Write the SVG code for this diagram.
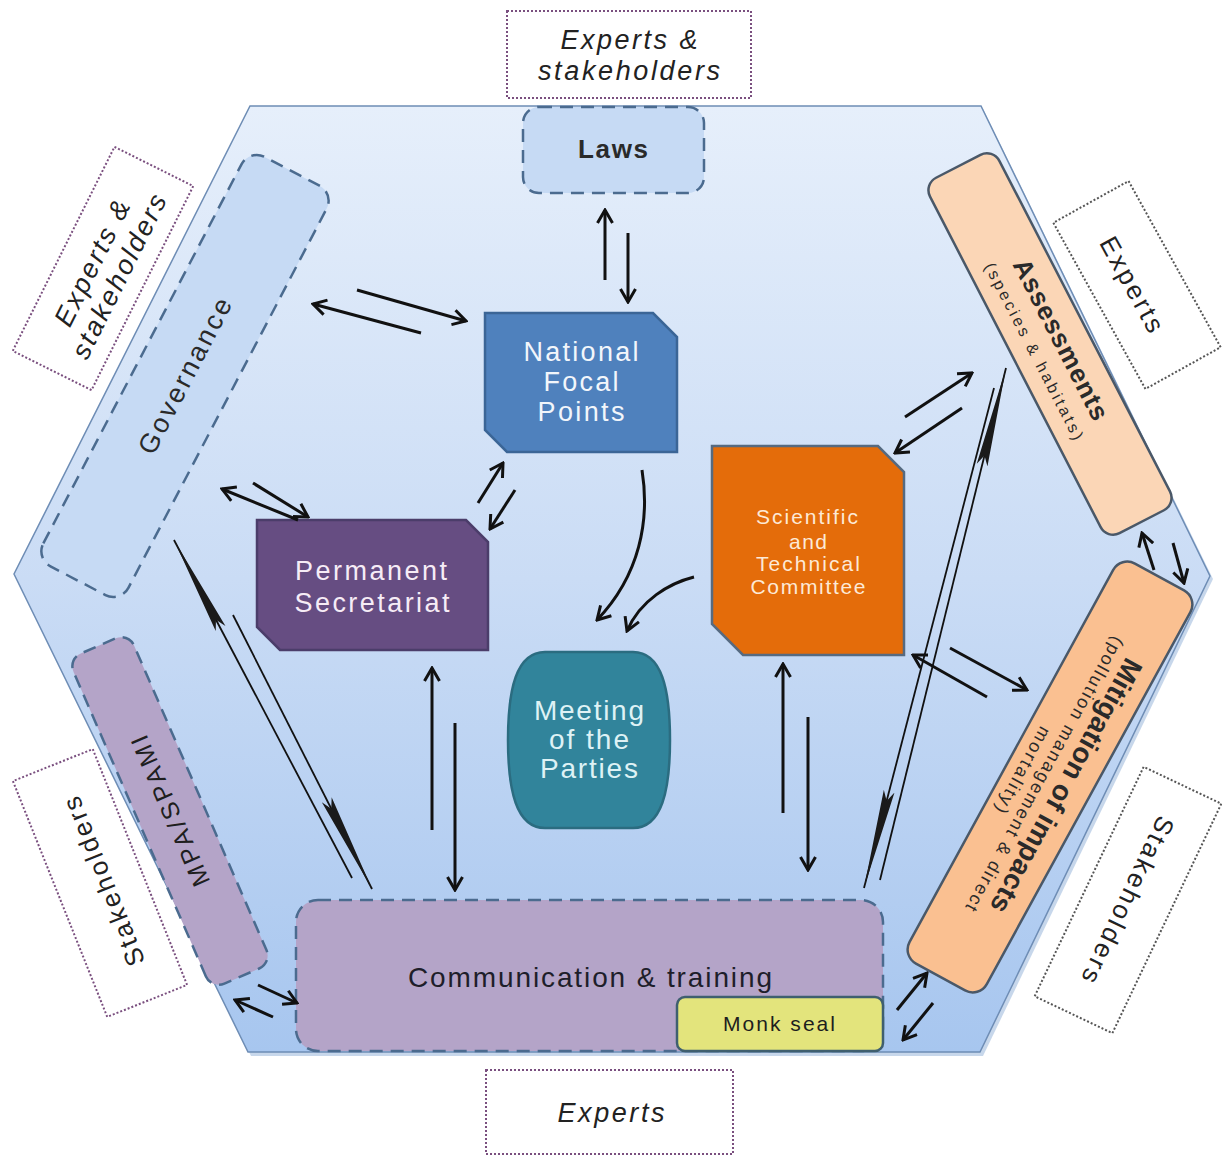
<svg xmlns="http://www.w3.org/2000/svg" width="1222" height="1156" viewBox="0 0 1222 1156">
  <defs>
    <linearGradient id="hexg" x1="0" y1="0" x2="0" y2="1">
      <stop offset="0" stop-color="#e6effb"/>
      <stop offset="0.5" stop-color="#cadcf5"/>
      <stop offset="1" stop-color="#a7c6ef"/>
    </linearGradient>
    <marker id="ah" viewBox="0 0 16 18" refX="14" refY="9" markerWidth="16" markerHeight="18" markerUnits="userSpaceOnUse" orient="auto">
      <path d="M1,1.5 L14,9 L1,16.5" fill="none" stroke="#111" stroke-width="3"/>
    </marker>
    <marker id="lh" viewBox="0 0 100 12" refX="100" refY="6" markerWidth="100" markerHeight="12" markerUnits="userSpaceOnUse" orient="auto">
      <path d="M0,0.5 L100,6 L0,11.5 L10,6 Z" fill="#1a1a1a"/>
    </marker>
    <style>
      text { font-family: "Liberation Sans", Arial, "DejaVu Sans", sans-serif; }
      .dash { stroke: #4b6b8f; stroke-width: 2.5; stroke-dasharray: 13 8; }
      .dotp { fill: #fff; stroke: #7a4f7f; stroke-width: 2; stroke-dasharray: 2 2; }
      .dotg { fill: #fff; stroke: #555; stroke-width: 2; stroke-dasharray: 2 2; }
      .blue { fill: #c6daf4; }
      .lav { fill: #b4a4c8; }
      .dark { fill: #222; }
      .arr { fill: none; stroke: #111; stroke-width: 3; marker-end: url(#ah); }
      .long { fill: none; stroke: #111; stroke-width: 1.8; marker-end: url(#lh); }
      .it { font-style: italic; }
    </style>
  </defs>

  <g id="hexagon">
    <polygon points="252,109 983,109 1213,579 983,1056 251,1056 17,577" fill="#8fb0d8" opacity="0.5"/>
    <polygon points="250,106 981,106 1210,576 980,1052 248,1052 14,574" fill="url(#hexg)" stroke="#6e8db5" stroke-width="1.5"/>
  </g>

  <g id="node-experts-stakeholders-top">
    <rect class="dotp" x="507" y="11" width="244" height="87"/>
    <text class="dark it" x="629" y="49" font-size="27" text-anchor="middle" textLength="137" lengthAdjust="spacing">Experts &amp;</text>
    <text class="dark it" x="629" y="80" font-size="27" text-anchor="middle" textLength="182" lengthAdjust="spacing">stakeholders</text>
  </g>

  <g id="node-experts-stakeholders-left" transform="translate(103,268.5) rotate(-63.5)">
    <rect class="dotp" x="-114" y="-44" width="228" height="88"/>
    <text class="dark it" x="0" y="-3" font-size="27" text-anchor="middle" textLength="137" lengthAdjust="spacing">Experts &amp;</text>
    <text class="dark it" x="0" y="27" font-size="27" text-anchor="middle" textLength="180" lengthAdjust="spacing">stakeholders</text>
  </g>

  <g id="node-experts-right" transform="translate(1137,285) rotate(61)">
    <rect class="dotg" x="-95" y="-43" width="190" height="86"/>
    <text class="dark" x="-3" y="13" font-size="26" text-anchor="middle" textLength="105" lengthAdjust="spacing">Experts</text>
  </g>

  <g id="node-stakeholders-left" transform="translate(100,883) rotate(-111.8)">
    <rect class="dotp" x="-127" y="-43" width="254" height="86"/>
    <text class="dark" x="0" y="13" font-size="26" text-anchor="middle" textLength="180" lengthAdjust="spacing">Stakeholders</text>
  </g>

  <g id="node-stakeholders-right" transform="translate(1128,900) rotate(115.4)">
    <rect class="dotg" x="-127" y="-43" width="254" height="86"/>
    <text class="dark" x="0" y="9" font-size="26" text-anchor="middle" textLength="182" lengthAdjust="spacing">Stakeholders</text>
  </g>

  <g id="node-experts-bottom">
    <rect class="dotp" x="486" y="1070" width="247" height="84"/>
    <text class="dark it" x="611" y="1122" font-size="27" text-anchor="middle" textLength="107" lengthAdjust="spacing">Experts</text>
  </g>

  <g id="node-governance" transform="translate(185,376) rotate(-62.4)">
    <rect class="blue dash" x="-231" y="-48" width="462" height="96" rx="17"/>
    <text x="0" y="9" font-size="27" text-anchor="middle" fill="#2a2a2a" textLength="172" lengthAdjust="spacing">Governance</text>
  </g>

  <g id="node-laws">
    <rect class="blue dash" x="523" y="107" width="181" height="86" rx="16"/>
    <text x="613" y="158" font-size="26" font-weight="bold" text-anchor="middle" fill="#2a2a2a" textLength="70" lengthAdjust="spacing">Laws</text>
  </g>

  <g id="node-mpa-spami" transform="translate(170,811) rotate(-113.5)">
    <rect class="lav dash" x="-180" y="-33" width="360" height="66" rx="14"/>
    <text x="0" y="9" font-size="25" text-anchor="middle" fill="#1e1e1e" textLength="162" lengthAdjust="spacing">MPA/SPAMI</text>
  </g>

  <g id="node-communication">
    <rect class="lav dash" x="296" y="900" width="587" height="151" rx="22"/>
    <text x="590" y="987" font-size="28" text-anchor="middle" fill="#1e1e2a" textLength="364" lengthAdjust="spacing">Communication &amp; training</text>
  </g>

  <g id="node-monk-seal">
    <rect x="677" y="997" width="206" height="54" rx="8" fill="#e3e47c" stroke="#3f5f6f" stroke-width="2.5"/>
    <text x="779" y="1031" font-size="21" text-anchor="middle" fill="#1e1e1e" textLength="112" lengthAdjust="spacing">Monk seal</text>
  </g>

  <g id="node-assessments" transform="translate(1050,344) rotate(62.7)">
    <rect x="-200" y="-39" width="400" height="78" rx="14" fill="#fbd6b6" stroke="#4a5868" stroke-width="2.5"/>
    <text x="1" y="-3" font-size="26" font-weight="bold" text-anchor="middle" fill="#2a2a2a" textLength="178" lengthAdjust="spacing">Assessments</text>
    <text x="-1" y="23" font-size="16" text-anchor="middle" fill="#2a2a2a" textLength="197" lengthAdjust="spacing">(species &amp; habitats)</text>
  </g>

  <g id="node-mitigation" transform="translate(1050,777) rotate(118.7)">
    <rect x="-228" y="-44" width="456" height="88" rx="16" fill="#fac091" stroke="#4a5868" stroke-width="2.5"/>
    <text x="0" y="-9" font-size="28" font-weight="bold" text-anchor="middle" fill="#2a2a2a" textLength="286" lengthAdjust="spacing">Mitigation of impacts</text>
    <text x="0" y="12" font-size="18" text-anchor="middle" fill="#2a2a2a" textLength="310" lengthAdjust="spacing">(pollution management &amp; direct</text>
    <text x="7" y="33" font-size="18" text-anchor="middle" fill="#2a2a2a" textLength="96" lengthAdjust="spacing">mortality)</text>
  </g>

  <g id="node-national-focal-points">
    <polygon points="485,313 653,313 677,337 677,452 507,452 485,430" fill="#4f81bd" stroke="#3b6596" stroke-width="2.5"/>
    <text x="581" y="361" font-size="27" text-anchor="middle" fill="#f2f6fb" textLength="115" lengthAdjust="spacing">National</text>
    <text x="581" y="391" font-size="27" text-anchor="middle" fill="#f2f6fb" textLength="75" lengthAdjust="spacing">Focal</text>
    <text x="581" y="421" font-size="27" text-anchor="middle" fill="#f2f6fb" textLength="87" lengthAdjust="spacing">Points</text>
  </g>

  <g id="node-permanent-secretariat">
    <polygon points="257,520 466,520 488,542 488,650 280,650 257,627" fill="#664d82" stroke="#4b3d6a" stroke-width="2.5"/>
    <text x="371" y="580" font-size="27" text-anchor="middle" fill="#f6ecf6" textLength="152" lengthAdjust="spacing">Permanent</text>
    <text x="372" y="612" font-size="27" text-anchor="middle" fill="#f6ecf6" textLength="155" lengthAdjust="spacing">Secretariat</text>
  </g>

  <g id="node-scientific-technical-committee">
    <polygon points="712,446 878,446 904,472 904,655 743,655 712,624" fill="#e46c0a" stroke="#566a80" stroke-width="2.5"/>
    <text x="807" y="524" font-size="21" text-anchor="middle" fill="#fde9d6" textLength="102" lengthAdjust="spacing">Scientific</text>
    <text x="808" y="549" font-size="21" text-anchor="middle" fill="#fde9d6" textLength="38" lengthAdjust="spacing">and</text>
    <text x="808" y="571" font-size="21" text-anchor="middle" fill="#fde9d6" textLength="104" lengthAdjust="spacing">Technical</text>
    <text x="808" y="594" font-size="21" text-anchor="middle" fill="#fde9d6" textLength="115" lengthAdjust="spacing">Committee</text>
  </g>

  <g id="node-meeting-of-the-parties">
    <path d="M545,652 H633 C662,652 670,690 670,740 C670,790 662,828 633,828 H545 C516,828 508,790 508,740 C508,690 516,652 545,652 Z" fill="#31849b" stroke="#2b6c80" stroke-width="2.5"/>
    <text x="589" y="720" font-size="28" text-anchor="middle" fill="#def2f5" textLength="110" lengthAdjust="spacing">Meeting</text>
    <text x="589" y="749" font-size="28" text-anchor="middle" fill="#def2f5" textLength="80" lengthAdjust="spacing">of the</text>
    <text x="589" y="778" font-size="28" text-anchor="middle" fill="#def2f5" textLength="98" lengthAdjust="spacing">Parties</text>
  </g>

  <g id="connectors">
    <path class="arr" d="M605,280 L605,210"/>
    <path class="arr" d="M628,233 L628,302"/>
    <path class="arr" d="M421,333 L313,304"/>
    <path class="arr" d="M357,290 L466,321"/>
    <path class="arr" d="M298,520 L222,489"/>
    <path class="arr" d="M253,483 L308,517"/>
    <path class="arr" d="M478,503 L503,463"/>
    <path class="arr" d="M515,490 L490,529"/>
    <path class="arr" d="M642,470 C650,520 640,575 597,620"/>
    <path class="arr" d="M694,577 C670,583 640,600 627,631"/>
    <path class="arr" d="M432,830 L432,668"/>
    <path class="arr" d="M455,723 L455,890"/>
    <path class="arr" d="M783,813 L783,664"/>
    <path class="arr" d="M808,717 L808,870"/>
    <path class="arr" d="M905,417 L972,373"/>
    <path class="arr" d="M962,408 L895,453"/>
    <path class="arr" d="M987,697 L913,655"/>
    <path class="arr" d="M950,648 L1027,690"/>
    <path class="arr" d="M1154,570 L1142,533"/>
    <path class="arr" d="M1173,543 L1184,583"/>
    <path class="arr" d="M897,1010 L927,973"/>
    <path class="arr" d="M933,1003 L903,1040"/>
    <path class="arr" d="M273,1017 L235,1000"/>
    <path class="arr" d="M258,985 L297,1003"/>
    <path class="long" d="M352,878 L174,540"/>
    <path class="long" d="M233,615 L372,889"/>
    <path class="long" d="M880,880 L1006,368"/>
    <path class="long" d="M994,388 L864,888"/>
  </g>
</svg>
